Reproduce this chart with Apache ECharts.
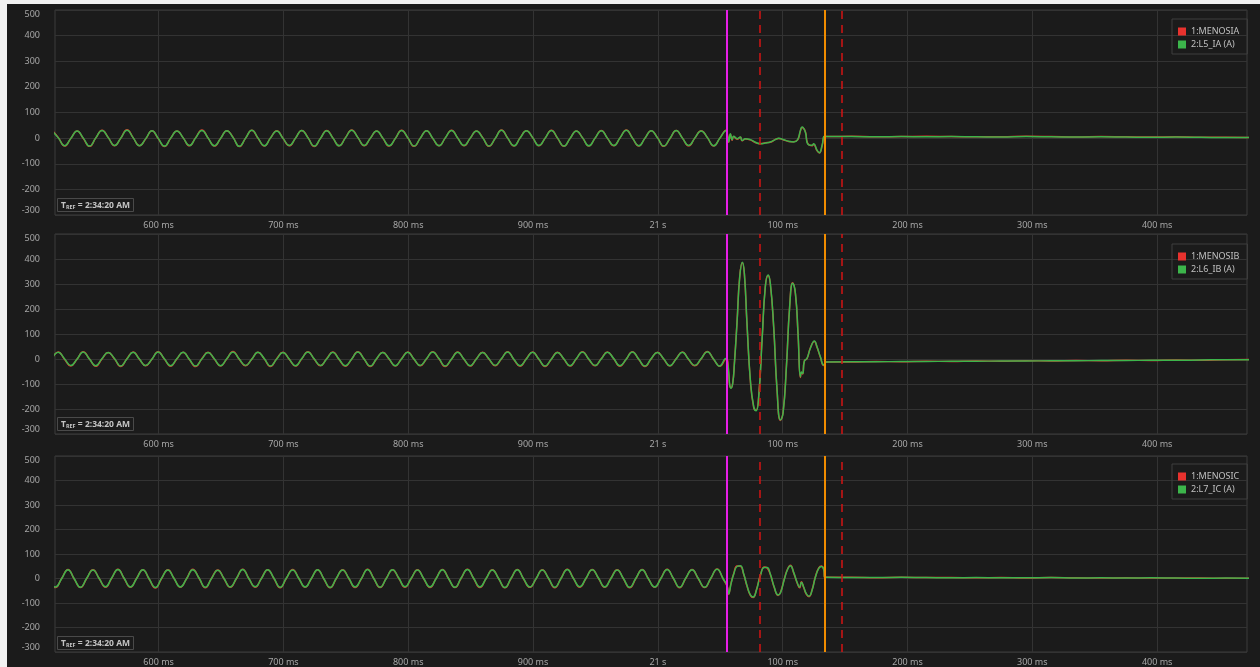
<!DOCTYPE html>
<html><head><meta charset="utf-8">
<script src="https://cdn.jsdelivr.net/npm/echarts@6/dist/echarts.min.js"></script>
<style>html,body{margin:0;padding:0;background:#1b1b1b;}#c{width:1260px;height:667px;}</style>
</head><body><div id="c"></div><script>
// ---------- DATA ----------
const xTickValues = [600, 700, 800, 900, 1000, 1100, 1200, 1300, 1400];
const xTickLabels = ['600 ms', '700 ms', '800 ms', '900 ms', '21 s', '100 ms', '200 ms', '300 ms', '400 ms'];
const xRange = [517, 1472];
const yRange = [-300, 500];
const yStep = 100;
const markerTimes = [1055, 1082, 1133.4, 1147.6];
const panelSeriesNames = [
  ['1:MENOSIA', '2:L5_IA (A)'],
  ['1:MENOSIB', '2:L6_IB (A)'],
  ['1:MENOSIC', '2:L7_IC (A)']
];
const trefText = '2:34:20 AM';

// pre-fault samples (5 ms apart)
const preStep = 5;
const preStartA = 514.7, preStartB = 514.6, preStartC = 512.4;
const preA_g = [29,1,-30,-1, 28,0,-31,1, 30,2,-29,0, 31,1,-30,-2, 29,-1,-31,0, 28,1,-29,1, 30,0,-30,-1, 29,2,-32,0, 31,0,-30,1, 28,-1,-29,0, 30,1,-31,-1, 29,0,-30,1, 31,2,-29,0, 28,0,-30,-1, 30,1,-31,0, 29,-1,-30,1, 30,0,-29,0, 28,1,-31,-1, 31,0,-30,1, 29,2,-29,0, 30,0,-31,-1, 28,1,-30,0, 29,-1,-29,1, 31,0,-30,0, 29,1,-31,-1, 30,0,-29,1, 28,2,-30,0, 30];
const preA_r = [30,2,-31,-1, 28,-2,-32,1, 31,2,-30,0, 33,1,-30,-3, 29,-2,-33,0, 28,1,-30,2, 32,0,-31,-1, 29,3,-33,0, 31,-1,-31,1, 29,-1,-30,0, 30,2,-33,-1, 30,0,-30,2, 32,2,-30,0, 28,-1,-31,-1, 31,1,-32,0, 29,-2,-30,1, 31,0,-30,0, 28,2,-32,-1, 32,0,-31,2, 29,2,-30,0, 31,-1,-32,-1, 28,1,-31,0, 30,-1,-30,1, 32,0,-31,0, 29,2,-32,-2, 30,0,-30,1, 29,2,-31,0, 31];
const preB_g = [0,27,1,-26, -1,28,0,-27, 1,26,2,-28, 0,27,0,-26, -1,28,1,-27, 1,27,-1,-28, 0,26,1,-27, 1,28,0,-26, -1,27,2,-28, 0,26,0,-27, 1,28,1,-26, 0,27,-1,-27, -1,28,0,-28, 1,26,1,-27, 0,27,0,-26, 1,28,2,-28, -1,27,0,-27, 0,26,1,-26, 1,28,-1,-27, 0,27,0,-28, -1,26,1,-27, 1,28,0,-26, 0,27,2,-27, -1,28,0,-28, 1,26,1,-27, 0,27,-1,-26, 1,29,0,-28, 2];
const preB_r = [1,28,-1,-28, -1,29,0,-29, 0,26,1,-30, 1,28,-1,-27, -1,29,0,-29, 0,27,-2,-30, 1,27,0,-28, 0,30,-1,-27, -1,27,1,-30, 1,27,-1,-28, 0,29,0,-27, 1,28,-2,-29, -1,29,0,-30, 0,27,0,-28, 1,28,-1,-27, 0,29,1,-30, -1,28,-1,-28, 1,27,0,-27, 0,29,-2,-29, 1,28,-1,-30, -1,27,0,-28, 0,29,-1,-27, 1,28,1,-29, -1,29,-1,-30, 0,27,0,-28, 1,28,-2,-27, 0,30,-1,-29, 1];
const preC_g = [1,-35,0,36, -1,-36,1,35, 0,-34,2,37, 1,-35,0,36, -1,-37,1,35, 0,-35,-1,36, 2,-36,0,34, 0,-35,1,37, -1,-34,0,36, 1,-36,2,35, 0,-35,0,36, -1,-37,1,35, 1,-35,-1,37, 0,-36,0,36, 2,-34,1,35, 0,-35,0,36, -1,-36,2,37, 1,-35,0,35, 0,-37,1,36, -1,-35,-1,35, 1,-36,0,37, 0,-34,1,36, 2,-35,0,35, 0,-36,1,36, -1,-35,0,37, 1,-36,2,36, 0,-36,1,38, -2];
const preC_r = [0,-37,1,37, -2,-37,0,36, 0,-36,1,38, 0,-36,1,36, -2,-39,0,36, 0,-36,-1,38, 1,-38,1,35, -1,-36,0,38, -1,-36,1,36, 0,-38,1,37, 0,-36,0,36, -2,-38,0,36, 0,-37,-1,38, 0,-37,1,36, 1,-36,0,36, -1,-37,1,37, -1,-37,1,38, 0,-37,0,36, 0,-38,0,37, -2,-36,-1,36, 0,-38,1,38, 0,-36,0,37, 1,-36,1,36, -1,-38,0,37, -1,-36,1,38, 0,-38,1,37, -1,-37,0,39, -3];

// fault samples
const faultTimesA = [1055.8,1056.7,1058.1,1059.5,1060.7,1063.5,1066.1,1067.5,1070.1,1074.1,1079.5,1082.1,1086.1,1090.1,1094.1,1096.8,1100.8,1104.8,1108.8,1112.0,1114.2,1115.5,1118.2,1120.0,1123.6,1124.8,1127.6,1129.4,1131.6,1133.4];
const faultA_g = [10,-15,17,-6,7,-2,4,-9,-2,-6,-19,-22,-19,-15,-6,0,-6,-12,-15,-6,30,43,23,-22,-28,-22,-48,-57,-28,7];
const faultA_r = [12,-16,15,-8,6,-4,3,-10,-3,-7,-20,-21,-18,-16,-5,-1,-7,-13,-14,-7,28,41,25,-20,-30,-24,-50,-58,-30,6];
const faultTimesB = [1055.4,1056.8,1057.6,1058.6,1060.0,1061.3,1063.4,1065.6,1067.7,1069.3,1071.4,1074.1,1076.8,1078.7,1080.8,1083.5,1086.1,1088.3,1090.1,1092.8,1095.5,1098.2,1100.3,1103.0,1105.6,1108.0,1110.2,1112.3,1114.2,1115.0,1116.0,1117.4,1119.5,1122.2,1125.4,1127.5,1130.2,1132.9];
const faultB_g = [0,-57,-104,-117,-97,-20,143,329,387,343,143,-84,-191,-207,-151,76,289,336,303,129,-124,-244,-217,-31,209,303,263,103,-71,-52,-58,-8,3,43,72,49,9,-24];
const faultB_r = [2,-60,-108,-115,-95,-18,146,332,385,340,140,-87,-194,-205,-148,79,291,334,300,126,-127,-246,-214,-28,212,305,260,100,-74,-55,-60,-7,1,45,70,47,7,-26];
const faultTimesC = [1055.4,1056.8,1057.6,1058.6,1060.8,1063.4,1066.1,1068.8,1071.4,1074.1,1076.3,1078.9,1082.1,1085.3,1087.5,1090.1,1093.3,1096.3,1098.2,1101.4,1104.0,1106.2,1108.8,1111.5,1113.6,1115.0,1116.9,1119.0,1121.1,1123.5,1126.2,1128.9,1131.0,1132.9,1133.7];
const faultC_g = [-29,-63,-49,-22,18,49,52,18,-29,-67,-76,-49,11,45,45,18,-36,-67,-59,-2,38,52,25,-15,-36,-15,-36,-63,-72,-49,5,41,49,38,5];
const faultC_r = [-31,-65,-47,-20,20,51,50,16,-31,-69,-78,-47,13,47,43,16,-38,-69,-57,0,40,54,23,-17,-38,-13,-38,-65,-74,-47,7,43,51,36,4];

// post-fault samples (20 ms apart)
const postStart = 1135, postStep = 20;
const postA_g = [6,6,5,6,5,6,5,4,6,5,4,5,4,3,4,3,2,2];
const postA_r = [6,7,5,6,7,6,5,5,7,6,4,6,5,4,5,3,3,2];
const postB_g = [-12,-11,-11,-10,-10,-9,-9,-8,-8,-7,-7,-6,-6,-5,-5,-4,-3,-3];
const postB_r = [-12,-12,-10,-11,-9,-10,-8,-9,-7,-8,-6,-7,-5,-6,-4,-5,-3,-2];
const postC_g = [5,4,4,5,4,3,4,3,3,4,2,3,2,3,2,1,2,1];
const postC_r = [5,5,3,5,4,4,3,4,2,4,3,2,3,2,2,2,1,1];

// ---------- BUILD ----------
function uniform(start, step, vals) { return vals.map((v, i) => [start + i * step, v]); }
function pairs(times, vals) { return times.map((t, i) => [t, vals[i]]); }
function wave(preStart, pre, ft, fv, post) {
  return uniform(preStart, preStep, pre).concat(pairs(ft, fv), uniform(postStart, postStep, post));
}
const panels = [
  { red: wave(preStartA, preA_r, faultTimesA, faultA_r, postA_r), green: wave(preStartA, preA_g, faultTimesA, faultA_g, postA_g) },
  { red: wave(preStartB, preB_r, faultTimesB, faultB_r, postB_r), green: wave(preStartB, preB_g, faultTimesB, faultB_g, postB_g) },
  { red: wave(preStartC, preC_r, faultTimesC, faultC_r, postC_r), green: wave(preStartC, preC_g, faultTimesC, faultC_g, postC_g) }
];

const FONT = 'Noto Sans';
const RED = '#e8322e', GREEN = '#3cb54b';
const gridBoxes = [{ top: 10, height: 205 }, { top: 234, height: 200 }, { top: 456, height: 197 }];
const legendTops = [19, 244, 464];
const markerStyles = [
  { color: '#e61ee6', width: 2, type: 'solid' },
  { color: '#d41414', width: 1.5, type: [8, 6] },
  { color: '#f08c00', width: 2, type: 'solid' },
  { color: '#d41414', width: 1.5, type: [8, 6] }
];

const option = {
  animation: false,
  backgroundColor: '#1b1b1b',
  textStyle: { fontFamily: FONT },
  grid: gridBoxes.map(g => ({ left: 55, width: 1192, top: g.top, height: g.height, show: true, borderColor: '#3c3c3c', borderWidth: 1, backgroundColor: 'transparent' })),
  xAxis: gridBoxes.map((g, i) => ({
    gridIndex: i, type: 'value', min: xRange[0], max: xRange[1],
    axisLine: { show: false },
    axisTick: { show: false, customValues: xTickValues },
    axisLabel: { customValues: xTickValues, formatter: v => xTickLabels[xTickValues.indexOf(v)], color: '#a6a6a6', fontSize: 9, margin: 6, fontFamily: FONT },
    splitLine: { show: true, lineStyle: { color: '#333333', width: 1 } }
  })),
  yAxis: gridBoxes.map((g, i) => ({
    gridIndex: i, type: 'value', min: yRange[0], max: yRange[1], interval: yStep,
    axisLine: { show: false }, axisTick: { show: false },
    axisLabel: { color: '#a6a6a6', fontSize: 9, margin: 15, fontFamily: FONT, verticalAlignMinLabel: 'bottom', verticalAlignMaxLabel: 'top' },
    splitLine: { show: true, lineStyle: { color: '#333333', width: 1 } }
  })),
  legend: gridBoxes.map((g, i) => ({
    orient: 'vertical', left: 1172, top: legendTops[i],
    data: panelSeriesNames[i], icon: 'rect', itemWidth: 8, itemHeight: 8, itemGap: 4,
    padding: [8, 8, 5, 6], borderColor: '#3e3e3e', borderWidth: 1,
    textStyle: { color: '#c0c0c0', fontSize: 9, fontFamily: FONT }
  })),
  title: gridBoxes.map((g, i) => ({
    left: 57, top: g.top + g.height - 17,
    text: '{a|T}{s|REF}{a| = ' + trefText + '}',
    padding: [3, 4, 2, 4], borderColor: '#4a4a4a', borderWidth: 1, backgroundColor: '#1b1b1b',
    textStyle: { rich: {
      a: { fontSize: 8.5, color: '#c4c4c4', fontFamily: FONT },
      s: { fontSize: 5.5, color: '#c4c4c4', fontFamily: FONT, verticalAlign: 'bottom' }
    } }
  })),
  graphic: [
    { type: 'rect', z: 100, silent: true, shape: { x: 0, y: 0, width: 7, height: 667 }, style: { fill: '#f2f2f2' } },
    { type: 'rect', z: 100, silent: true, shape: { x: 0, y: 0, width: 1260, height: 4 }, style: { fill: '#f2f2f2' } }
  ],
  series: []
};

panels.forEach((p, i) => {
  option.series.push({
    name: panelSeriesNames[i][0], type: 'line', xAxisIndex: i, yAxisIndex: i,
    data: p.red, showSymbol: false, smooth: 0.5, color: RED,
    lineStyle: { width: 1.5, color: RED }
  });
  option.series.push({
    name: panelSeriesNames[i][1], type: 'line', xAxisIndex: i, yAxisIndex: i,
    data: p.green, showSymbol: false, smooth: 0.5, color: GREEN,
    lineStyle: { width: 1.5, color: GREEN },
    markLine: {
      silent: true, symbol: ['none', 'none'], label: { show: false },
      data: markerTimes.map((t, k) => ({ xAxis: t, lineStyle: markerStyles[k] }))
    }
  });
});

const chart = echarts.init(document.getElementById('c'), null, { renderer: 'canvas' });
chart.setOption(option);
</script></body></html>
